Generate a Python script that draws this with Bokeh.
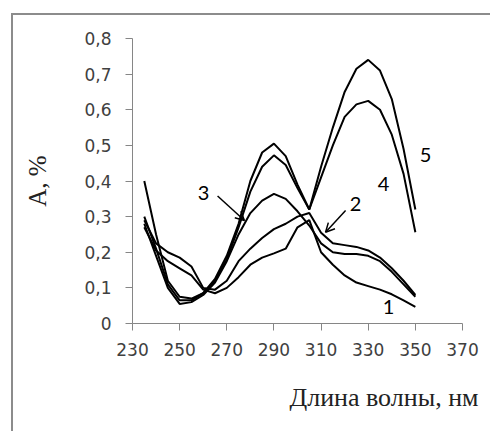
from bokeh.plotting import figure
from bokeh.models import (Range1d, FixedTicker, CustomJSTickFormatter, Label, Arrow, OpenHead,
                          Title)
from bokeh.embed import file_html
from bokeh.resources import INLINE

# wavelength, nm
wl = [235, 240, 245, 250, 255, 260, 265, 270, 275, 280, 285, 290,
      295, 300, 305, 310, 315, 320, 325, 330, 335, 340, 345, 350]

a1 = [0.27, 0.205, 0.175, 0.155, 0.135, 0.095, 0.085, 0.10, 0.13, 0.165, 0.185, 0.197,
      0.21, 0.27, 0.29, 0.20, 0.165, 0.135, 0.115, 0.105, 0.095, 0.082, 0.065, 0.047]
a2 = [0.29, 0.225, 0.20, 0.185, 0.16, 0.10, 0.095, 0.12, 0.175, 0.21, 0.24, 0.265,
      0.28, 0.30, 0.31, 0.255, 0.225, 0.22, 0.215, 0.205, 0.185, 0.155, 0.12, 0.08]
a3 = [0.28, 0.19, 0.10, 0.055, 0.06, 0.08, 0.115, 0.175, 0.25, 0.31, 0.345, 0.364,
      0.35, 0.315, 0.275, 0.225, 0.20, 0.195, 0.195, 0.19, 0.175, 0.145, 0.11, 0.075]
a4 = [0.30, 0.21, 0.11, 0.065, 0.065, 0.085, 0.12, 0.18, 0.27, 0.37, 0.44, 0.472,
      0.445, 0.38, 0.32, 0.41, 0.50, 0.58, 0.615, 0.625, 0.60, 0.53, 0.42, 0.256]
a5 = [0.40, 0.25, 0.12, 0.075, 0.07, 0.085, 0.125, 0.19, 0.28, 0.40, 0.48, 0.505,
      0.47, 0.39, 0.32, 0.44, 0.55, 0.65, 0.715, 0.74, 0.71, 0.63, 0.49, 0.32]
series = [a1, a2, a3, a4, a5]

x_ticks = [230, 250, 270, 290, 310, 330, 350, 370]
y_ticks = [0, 0.1, 0.2, 0.3, 0.4, 0.5, 0.6, 0.7, 0.8]

curve_names = ["1", "2", "3", "4", "5"]
name_x = [338.6, 324.6, 260.1, 336.5, 354.3]
name_y = [0.047, 0.336, 0.367, 0.392, 0.472]

# arrows (start x, start y, end x, end y) for labels 3 and 2
arrows = [(266.1, 0.358, 277.5, 0.289), (320.4, 0.317, 311.9, 0.256)]

p = figure(width=479, height=418, output_backend="svg", toolbar_location=None,
           x_range=Range1d(230, 370), y_range=Range1d(0, 0.8),
           styles={"border-left": "2px solid #8c8c8c", "border-top": "2px solid #8c8c8c",
                   "margin-left": "11px", "margin-top": "13px"})
p.min_border = 0
p.min_border_left = 119
p.min_border_right = 30
p.min_border_top = 23
p.min_border_bottom = 109
p.outline_line_color = None
p.grid.visible = False
p.background_fill_color = "white"
p.border_fill_color = "white"

for ax in (p.xaxis[0], p.yaxis[0]):
    ax.axis_line_color = "#868686"
    ax.major_tick_line_color = "#868686"
    ax.minor_tick_line_color = None
    ax.major_tick_out = 7
    ax.major_tick_in = 0
    ax.major_label_text_font = "DejaVu Sans"
    ax.major_label_text_font_size = "17px"
    ax.major_label_text_color = "#404040"

p.xaxis.ticker = FixedTicker(ticks=x_ticks)
p.yaxis.ticker = FixedTicker(ticks=y_ticks)
p.yaxis.formatter = CustomJSTickFormatter(
    code="return tick == 0 ? '0' : tick.toFixed(1).replace('.', ',');")
p.xaxis.major_label_standoff = 12
p.yaxis.major_label_standoff = 14

p.yaxis.axis_label = "А, %"
p.yaxis.axis_label_text_font = "Liberation Serif"
p.yaxis.axis_label_text_font_style = "normal"
p.yaxis.axis_label_text_color = "#222222"
p.yaxis.axis_label_text_font_size = "25px"
p.yaxis.axis_label_standoff = 30

xt = Title(text="Длина волны, нм", align="right", offset=-16, standoff=44,
           text_font="Liberation Serif", text_font_size="26px", text_font_style="normal",
           text_color="#222222")
p.add_layout(xt, "below")

for s in series:
    p.line(wl, s, line_color="black", line_width=2)

for n, lx, ly in zip(curve_names, name_x, name_y):
    p.add_layout(Label(x=lx, y=ly, text=n, text_font="Lato", text_font_size="20px",
                       text_align="center", text_baseline="middle", text_color="black"))

for (x0, y0, x1, y1) in arrows:
    p.add_layout(Arrow(x_start=x0, y_start=y0, x_end=x1, y_end=y1,
                       line_color="black", line_width=1.5,
                       end=OpenHead(size=9, line_color="black", line_width=1.5)))

open("out.html", "w").write(file_html(p, INLINE))
